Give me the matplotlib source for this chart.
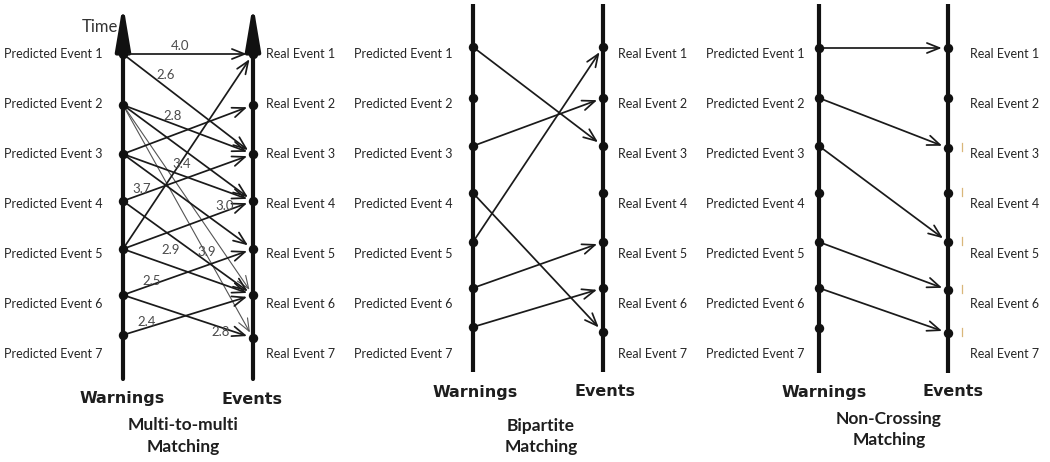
import matplotlib
matplotlib.use("Agg")
import matplotlib.pyplot as plt

# ---------------- data ----------------
pred_labels = ["Predicted Event 1", "Predicted Event 2", "Predicted Event 3", "Predicted Event 4",
               "Predicted Event 5", "Predicted Event 6", "Predicted Event 7"]
real_labels = ["Real Event 1", "Real Event 2", "Real Event 3", "Real Event 4",
               "Real Event 5", "Real Event 6", "Real Event 7"]

# event times (vertical positions along the time axis, top = earliest)
mm_warn_times = [54, 105, 154, 201, 249, 295, 335]
mm_event_times = [54, 105, 154, 201, 249, 295, 338]
bp_warn_times = [47, 98, 146, 193, 242, 288, 327]
bp_event_times = [47, 98, 146, 193, 242, 288, 332]
nc_warn_times = [48, 98, 146, 193, 242, 288, 328]
nc_event_times = [48, 98, 148, 193, 242, 290, 333]

# edges: (warning index, event index), 1-based
mm_edges = [(1, 1), (1, 3), (2, 3), (2, 4), (2, 6), (2, 7), (3, 2), (3, 4), (3, 5),
            (4, 3), (4, 6), (5, 1), (5, 4), (5, 6), (6, 5), (6, 7), (7, 6)]
mm_weights = ["4.0", "2.6", "2.8", "", "", "3.9", "", "3.4", "",
              "3.7", "2.9", "", "3.0", "", "2.5", "2.8", "2.4"]
mm_thin = [False, False, False, False, True, True, False, False, False,
           False, False, False, False, False, False, False, False]
bp_edges = [(1, 3), (3, 2), (4, 7), (5, 1), (6, 5), (7, 6)]
nc_edges = [(1, 1), (2, 3), (3, 5), (5, 6), (6, 7)]

# label placement along edges (fraction along edge, vertical offset in px)
mm_label_t = [0.44, 0.33, 0.38, 0, 0, 0.64, 0, 0.45, 0, 0.14, 0.37, 0, 0.78, 0, 0.22, 0.75, 0.18]
mm_label_dy = [-8, -12, -8, 0, 0, -2, 0, -11, 0, -5, 14, 0, -6, 0, -4, 5, -6]

titles = [["Multi-to-multi", "Matching"], ["Bipartite", "Matching"], ["Non-Crossing", "Matching"]]

# ---------------- layout ----------------
W, H = 1050, 462
fig = plt.figure(figsize=(W / 100, H / 100), dpi=100)
ax = fig.add_axes([0, 0, 1, 1])
ax.set_xlim(0, W)
ax.set_ylim(H, 0)
ax.axis("off")

FONT = ["Lato", "DejaVu Sans"]
label_rows = [54, 104, 154, 204, 254, 304, 354]
LINE = "#111111"
TXT = "#262626"

panels = [
    dict(xl=123, xr=253, top=4, bottom=379, arrows=True, warn=mm_warn_times, ev=mm_event_times,
         edges=mm_edges, pl_right=103, rl_left=266,
         wy=399, ey=399, wx=122, ex=252, tx=183, ty=[425, 447]),
    dict(xl=473, xr=603, top=4, bottom=372, arrows=False, warn=bp_warn_times, ev=bp_event_times,
         edges=bp_edges, pl_right=453, rl_left=618,
         wy=393, ey=392, wx=475, ex=605, tx=541, ty=[426, 447]),
    dict(xl=819, xr=948, top=4, bottom=373, arrows=False, warn=nc_warn_times, ev=nc_event_times,
         edges=nc_edges, pl_right=805, rl_left=970,
         wy=393, ey=392, wx=824, ex=953, tx=889, ty=[419, 440]),
]

for pi, p in enumerate(panels):
    xl, xr = p["xl"], p["xr"]
    # axes (timelines)
    for x in (xl, xr):
        if p["arrows"]:
            ax.annotate("", xy=(x, p["top"]), xytext=(x, p["bottom"]),
                        arrowprops=dict(arrowstyle="-|>,head_length=1.9,head_width=0.32",
                                        lw=3.0, color=LINE, mutation_scale=14,
                                        shrinkA=0, shrinkB=0), zorder=2)
        else:
            ax.plot([x, x], [p["top"], p["bottom"]], color=LINE, lw=3.0,
                    solid_capstyle="butt", zorder=2)
    # edges
    for k, (i, j) in enumerate(p["edges"]):
        y0 = p["warn"][i - 1]
        y1 = p["ev"][j - 1]
        thin = pi == 0 and mm_thin[k]
        ax.annotate("", xy=(xr, y1), xytext=(xl, y0),
                    arrowprops=dict(arrowstyle="->,head_length=0.75,head_width=0.3",
                                    lw=0.8 if thin else 1.25,
                                    color="#555555" if thin else "#1a1a1a",
                                    mutation_scale=12, shrinkA=0, shrinkB=4.5),
                    zorder=3)
        if pi == 0 and mm_weights[k]:
            t = mm_label_t[k]
            lx = xl + t * (xr - xl)
            ly = y0 + t * (y1 - y0) + mm_label_dy[k]
            ax.text(lx, ly, mm_weights[k], fontsize=9.5, family=FONT, color="#4a4a4a",
                    ha="center", va="center", zorder=5)
    # dots
    ax.scatter([xl] * len(p["warn"]), p["warn"], s=46, color=LINE, zorder=4, linewidths=0)
    ax.scatter([xr] * len(p["ev"]), p["ev"], s=46, color=LINE, zorder=4, linewidths=0)
    # labels
    for r, lab in enumerate(pred_labels):
        ax.text(p["pl_right"], label_rows[r], lab, fontsize=9, family=FONT, color=TXT,
                ha="right", va="center")
    for r, lab in enumerate(real_labels):
        ax.text(p["rl_left"], label_rows[r], lab, fontsize=9, family=FONT, color=TXT,
                ha="left", va="center")
    ax.text(p["wx"], p["wy"], "Warnings", fontsize=11.5, fontweight="bold",
            family=["DejaVu Sans"], color="#1e1e1e", ha="center", va="center")
    ax.text(p["ex"], p["ey"], "Events", fontsize=11.5, fontweight="bold",
            family=["DejaVu Sans"], color="#1e1e1e", ha="center", va="center")
    for line, yy in zip(titles[pi], p["ty"]):
        ax.text(p["tx"], yy, line, fontsize=12.5, fontweight="bold", family=FONT,
                color="#1e1e1e", ha="center", va="center")

# "Time" label of first panel
ax.text(118, 27, "Time", fontsize=12, family=FONT, color="#333333", ha="right", va="center")

# faint tan tick artefacts right of the last panel's event axis
for yy in nc_event_times[2:]:
    ax.plot([962, 962], [yy - 5, yy + 3], color="#d9b77a", lw=0.9, zorder=1)

fig.savefig("out.png", dpi=100, facecolor="white")
